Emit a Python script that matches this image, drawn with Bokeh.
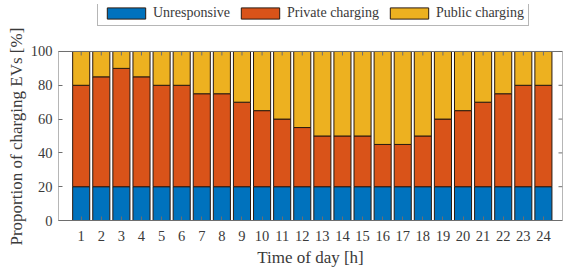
from bokeh.plotting import figure
from bokeh.models import ColumnDataSource, Range1d, FixedTicker, Legend, LegendItem, Title
from bokeh.embed import file_html
from bokeh.resources import INLINE

hours = list(range(1, 25))
unresponsive = [20] * 24
private_top = [80, 85, 90, 85, 80, 80, 75, 75, 70, 65, 60, 55, 50, 50, 50, 45, 45, 50, 60, 65, 70, 75, 80, 80]
private = [t - u for t, u in zip(private_top, unresponsive)]
public = [100 - t for t in private_top]
series = ["Unresponsive", "Private charging", "Public charging"]
colors = ["#0072BD", "#D95319", "#EDB120"]
y_ticks = [0, 20, 40, 60, 80, 100]
y_max = 100

src = ColumnDataSource(dict(hour=hours, u=unresponsive, pr=private, pu=public))

FONT = "Liberation Serif"
TXT = "#3a3a3a"
AX = "#6e6e6e"
EDGE = "#2a1a10"

# frame covers the legend strip too; the axes box is 0..100
xr = Range1d(-0.13, 24.95)
yr = Range1d(0, 127.8)
p = figure(width=563, height=273, output_backend="svg", toolbar_location=None,
           x_range=xr, y_range=yr,
           min_border_left=58, min_border_right=1, min_border_top=4, min_border_bottom=53)
p.background_fill_color = "white"
p.border_fill_color = "white"
p.grid.visible = False
p.outline_line_color = None

rs = p.vbar_stack(["u", "pr", "pu"], x="hour", width=0.85, source=src,
                  fill_color=colors, line_color=EDGE, line_width=1)

# box: top, left and right edges of the axes
p.segment(x0=[xr.start, xr.start, xr.end], y0=[y_max, 0, 0],
          x1=[xr.end, xr.start, xr.end], y1=[y_max, y_max, y_max],
          line_color=AX, line_width=1)
# inward ticks on the top and right edges
p.ray(x=hours, y=[y_max] * len(hours), length=4, length_units="screen",
      angle=-90, angle_units="deg", line_color=AX, line_width=1)
p.ray(x=[xr.end] * len(y_ticks), y=y_ticks, length=4, length_units="screen",
      angle=180, angle_units="deg", line_color=AX, line_width=1)

for ax in (p.xaxis[0], p.yaxis[0]):
    ax.major_tick_in = 4
    ax.major_tick_out = 0
    ax.minor_tick_in = 0
    ax.minor_tick_out = 0
    ax.axis_line_color = AX
    ax.major_tick_line_color = AX
    ax.major_label_text_font = FONT
    ax.major_label_text_font_size = "14.5px"
    ax.major_label_text_color = TXT
    ax.axis_label_text_font = FONT
    ax.axis_label_text_font_size = "17px"
    ax.axis_label_text_font_style = "normal"
    ax.axis_label_text_color = TXT

p.yaxis.axis_line_color = None
p.xaxis.ticker = FixedTicker(ticks=hours)
p.yaxis.ticker = FixedTicker(ticks=y_ticks)
p.xaxis.axis_label = "Time of day [h]"
p.xaxis.major_label_standoff = 10
p.yaxis.major_label_standoff = 6
p.xaxis.axis_label_standoff = 4

ylabel = Title(text="Proportion of charging EVs [%]", align="left", offset=-25,
               text_font=FONT, text_font_size="17px", text_font_style="normal",
               text_color=TXT, standoff=4)
p.add_layout(ylabel, "left")

legend = Legend(items=[LegendItem(label=s, renderers=[r]) for s, r in zip(series, rs)],
                orientation="horizontal", location=(39, 194),
                label_text_font=FONT, label_text_font_size="14px", label_text_color=TXT,
                glyph_width=48, glyph_height=14, label_standoff=3, spacing=6,
                padding=4, margin=0, border_line_color=AX, border_line_width=1,
                background_fill_alpha=1, label_height=14)
p.add_layout(legend, "center")

open("out.html", "w").write(file_html(p, INLINE))
